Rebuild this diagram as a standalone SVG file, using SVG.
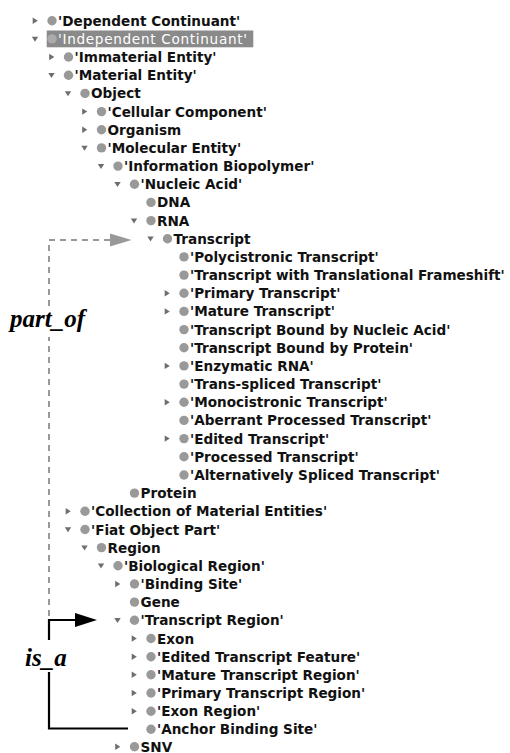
<svg xmlns="http://www.w3.org/2000/svg" xmlns:xlink="http://www.w3.org/1999/xlink" width="510" height="753" viewBox="0 0 510 753">
<style>
.bg{fill:#ffffff}
.c{fill:#999999}
.tri{fill:#6e6e6e}
.t{font-family:"DejaVu Sans","Liberation Sans",sans-serif;font-weight:bold;font-size:13.6px;fill:#111111}
.sel{fill:#8a8a8a}
.selt{font-family:"DejaVu Sans","Liberation Sans",sans-serif;font-size:13.6px;fill:#ffffff}
.lbl{font-family:"Liberation Serif","Times New Roman",serif;font-weight:bold;font-style:italic;font-size:25px;fill:#000000}
.dash{fill:none;stroke:#999999;stroke-width:2;stroke-dasharray:6 5}
.solid{fill:none;stroke:#000000;stroke-width:2.2}
</style>
<defs>
<path id="tr" d="M-2.3,-3.2 L2.8,0 L-2.3,3.2Z"/>
<path id="td" d="M-3.2,-2.2 L3.2,-2.2 L0,2.8Z"/>
<circle id="dot" r="4.7"/>
</defs>
<rect class="bg" x="0" y="0" width="510" height="753"/>
<g id="nodes">
<g id="n0" transform="translate(52,20.7)"><use href="#tr" x="-17" class="tri"/><use href="#dot" class="c"/><text class="t" x="6" y="5">'Dependent Continuant'</text></g>
<g id="n1" transform="translate(52,38.9)"><rect class="sel" x="-5.3" y="-8.4" width="206.6" height="16.8"/><use href="#td" x="-17" class="tri"/><use href="#dot" fill="#ababab"/><text class="selt" x="6" y="5" textLength="189" lengthAdjust="spacing">'Independent Continuant'</text></g>
<g id="n2" transform="translate(68.5,57)"><use href="#tr" x="-17" class="tri"/><use href="#dot" class="c"/><text class="t" x="6" y="5">'Immaterial Entity'</text></g>
<g id="n3" transform="translate(68.5,75.2)"><use href="#td" x="-17" class="tri"/><use href="#dot" class="c"/><text class="t" x="6" y="5">'Material Entity'</text></g>
<g id="n4" transform="translate(85,93.4)"><use href="#td" x="-17" class="tri"/><use href="#dot" class="c"/><text class="t" x="6" y="5">Object</text></g>
<g id="n5" transform="translate(101.5,111.6)"><use href="#tr" x="-17" class="tri"/><use href="#dot" class="c"/><text class="t" x="6" y="5">'Cellular Component'</text></g>
<g id="n6" transform="translate(101.5,129.7)"><use href="#tr" x="-17" class="tri"/><use href="#dot" class="c"/><text class="t" x="6" y="5">Organism</text></g>
<g id="n7" transform="translate(101.5,147.9)"><use href="#td" x="-17" class="tri"/><use href="#dot" class="c"/><text class="t" x="6" y="5">'Molecular Entity'</text></g>
<g id="n8" transform="translate(118,166.1)"><use href="#td" x="-17" class="tri"/><use href="#dot" class="c"/><text class="t" x="6" y="5">'Information Biopolymer'</text></g>
<g id="n9" transform="translate(134.5,184.2)"><use href="#td" x="-17" class="tri"/><use href="#dot" class="c"/><text class="t" x="6" y="5">'Nucleic Acid'</text></g>
<g id="n10" transform="translate(151,202.4)"><use href="#dot" class="c"/><text class="t" x="6" y="5">DNA</text></g>
<g id="n11" transform="translate(151,220.6)"><use href="#td" x="-17" class="tri"/><use href="#dot" class="c"/><text class="t" x="6" y="5">RNA</text></g>
<g id="n12" transform="translate(167.5,238.7)"><use href="#td" x="-17" class="tri"/><use href="#dot" class="c"/><text class="t" x="6" y="5">Transcript</text></g>
<g id="n13" transform="translate(184,256.9)"><use href="#dot" class="c"/><text class="t" x="6" y="5">'Polycistronic Transcript'</text></g>
<g id="n14" transform="translate(184,275.1)"><use href="#dot" class="c"/><text class="t" x="6" y="5">'Transcript with Translational Frameshift'</text></g>
<g id="n15" transform="translate(184,293.3)"><use href="#tr" x="-17" class="tri"/><use href="#dot" class="c"/><text class="t" x="6" y="5">'Primary Transcript'</text></g>
<g id="n16" transform="translate(184,311.4)"><use href="#tr" x="-17" class="tri"/><use href="#dot" class="c"/><text class="t" x="6" y="5">'Mature Transcript'</text></g>
<g id="n17" transform="translate(184,329.6)"><use href="#dot" class="c"/><text class="t" x="6" y="5">'Transcript Bound by Nucleic Acid'</text></g>
<g id="n18" transform="translate(184,347.8)"><use href="#dot" class="c"/><text class="t" x="6" y="5">'Transcript Bound by Protein'</text></g>
<g id="n19" transform="translate(184,365.9)"><use href="#tr" x="-17" class="tri"/><use href="#dot" class="c"/><text class="t" x="6" y="5">'Enzymatic RNA'</text></g>
<g id="n20" transform="translate(184,384.1)"><use href="#dot" class="c"/><text class="t" x="6" y="5">'Trans-spliced Transcript'</text></g>
<g id="n21" transform="translate(184,402.3)"><use href="#tr" x="-17" class="tri"/><use href="#dot" class="c"/><text class="t" x="6" y="5">'Monocistronic Transcript'</text></g>
<g id="n22" transform="translate(184,420.4)"><use href="#dot" class="c"/><text class="t" x="6" y="5">'Aberrant Processed Transcript'</text></g>
<g id="n23" transform="translate(184,438.6)"><use href="#tr" x="-17" class="tri"/><use href="#dot" class="c"/><text class="t" x="6" y="5">'Edited Transcript'</text></g>
<g id="n24" transform="translate(184,456.8)"><use href="#dot" class="c"/><text class="t" x="6" y="5">'Processed Transcript'</text></g>
<g id="n25" transform="translate(184,475)"><use href="#dot" class="c"/><text class="t" x="6" y="5">'Alternatively Spliced Transcript'</text></g>
<g id="n26" transform="translate(134.5,493.1)"><use href="#dot" class="c"/><text class="t" x="6" y="5">Protein</text></g>
<g id="n27" transform="translate(85,511.3)"><use href="#tr" x="-17" class="tri"/><use href="#dot" class="c"/><text class="t" x="6" y="5">'Collection of Material Entities'</text></g>
<g id="n28" transform="translate(85,529.5)"><use href="#td" x="-17" class="tri"/><use href="#dot" class="c"/><text class="t" x="6" y="5">'Fiat Object Part'</text></g>
<g id="n29" transform="translate(101.5,547.6)"><use href="#td" x="-17" class="tri"/><use href="#dot" class="c"/><text class="t" x="6" y="5">Region</text></g>
<g id="n30" transform="translate(118,565.8)"><use href="#td" x="-17" class="tri"/><use href="#dot" class="c"/><text class="t" x="6" y="5">'Biological Region'</text></g>
<g id="n31" transform="translate(134.5,584)"><use href="#tr" x="-17" class="tri"/><use href="#dot" class="c"/><text class="t" x="6" y="5">'Binding Site'</text></g>
<g id="n32" transform="translate(134.5,602.1)"><use href="#dot" class="c"/><text class="t" x="6" y="5">Gene</text></g>
<g id="n33" transform="translate(134.5,620.3)"><use href="#td" x="-17" class="tri"/><use href="#dot" class="c"/><text class="t" x="6" y="5">'Transcript Region'</text></g>
<g id="n34" transform="translate(151,638.5)"><use href="#tr" x="-17" class="tri"/><use href="#dot" class="c"/><text class="t" x="6" y="5">Exon</text></g>
<g id="n35" transform="translate(151,656.7)"><use href="#tr" x="-17" class="tri"/><use href="#dot" class="c"/><text class="t" x="6" y="5">'Edited Transcript Feature'</text></g>
<g id="n36" transform="translate(151,674.8)"><use href="#tr" x="-17" class="tri"/><use href="#dot" class="c"/><text class="t" x="6" y="5">'Mature Transcript Region'</text></g>
<g id="n37" transform="translate(151,693)"><use href="#tr" x="-17" class="tri"/><use href="#dot" class="c"/><text class="t" x="6" y="5">'Primary Transcript Region'</text></g>
<g id="n38" transform="translate(151,711.2)"><use href="#tr" x="-17" class="tri"/><use href="#dot" class="c"/><text class="t" x="6" y="5">'Exon Region'</text></g>
<g id="n39" transform="translate(151,729.3)"><use href="#dot" class="c"/><text class="t" x="6" y="5">'Anchor Binding Site'</text></g>
<g id="n40" transform="translate(134.5,746.8)"><use href="#tr" x="-17" class="tri"/><use href="#dot" class="c"/><text class="t" x="6" y="4.8">SNV</text></g>
</g>
<g id="connectors">
<path class="dash" d="M49,616 V337"/>
<path class="dash" d="M49,306 V240 H111"/>
<polygon points="110,233.5 131.5,240 110,246.5" fill="#999999"/>
<path class="solid" d="M49,640 V620 H77"/>
<polygon points="75,613 97,620 75,627" fill="#000000"/>
<path class="solid" d="M49,672 V728.5 H128"/>
</g>
<g id="labels">
<text class="lbl" x="10" y="327">part_of</text>
<text class="lbl" x="25" y="666">is_a</text>
</g>
</svg>
